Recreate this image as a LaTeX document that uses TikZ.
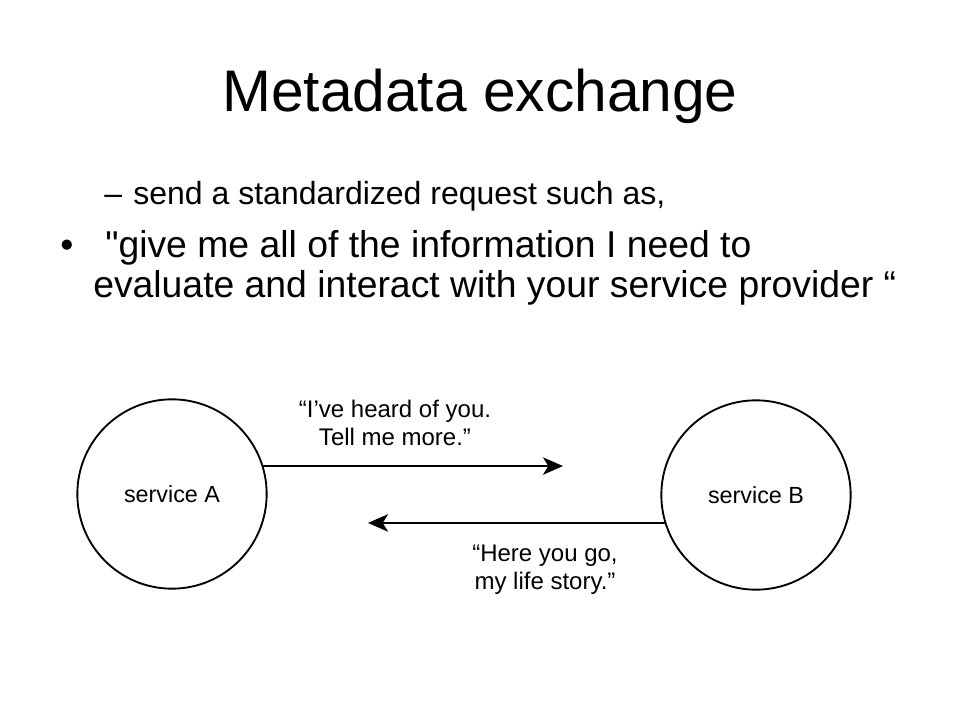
\documentclass[tikz,border=0pt]{standalone}
\usepackage{fontspec}
\setmainfont{Liberation Sans}
\usetikzlibrary{arrows.meta}
\begin{document}
\begin{tikzpicture}[x=0.75pt, y=-0.75pt]
    \tikzset{
        service/.style={circle, draw, line width=1.4pt, minimum size=142pt, inner sep=0pt, font=\fontsize{17.5}{20}\selectfont},
        message/.style={align=center, font=\fontsize{18}{21}\selectfont},
        talk/.style={line width=1.9pt, -{Stealth[length=15pt, width=13pt, inset=4pt]}}
    }
    \useasboundingbox[fill=white] (0,0) rectangle (960,720);
    % slide text
    \node[anchor=base] (title) at (480,112) {\fontsize{44}{50}\selectfont Metadata exchange};
    \node[anchor=base west, inner sep=0pt] (sub) at (104,205) {\fontsize{24}{28}\selectfont –\hspace{8.5pt}send a standardized request such as,};
    \node[anchor=base west, inner sep=0pt] (dot) at (60,258) {\fontsize{28}{34}\selectfont •};
    \node[anchor=base west, inner sep=0pt] (line1) at (105,258) {\fontsize{28}{34}\selectfont \textquotedbl give me all of the information I need to};
    \node[anchor=base west, inner sep=0pt] (line2) at (93,297) {\fontsize{28}{34}\selectfont evaluate and interact with your service provider “};
    % diagram
    \node[service] (A) at (172,494) {service A};
    \node[service] (B) at (756,495) {service B};
    \coordinate (tipA) at (563,466);
    \coordinate (tipB) at (368,521);
    \draw[talk] (A.17) -- (A.17 -| tipA);
    \draw[talk] (B.197) -- (B.197 -| tipB);
    \node[message] (ask) at (395,423) {“I’ve heard of you.\\Tell me more.”};
    \node[message] (reply) at (545,570) {“Here you go,\\my life story.”};
\end{tikzpicture}
\end{document}
